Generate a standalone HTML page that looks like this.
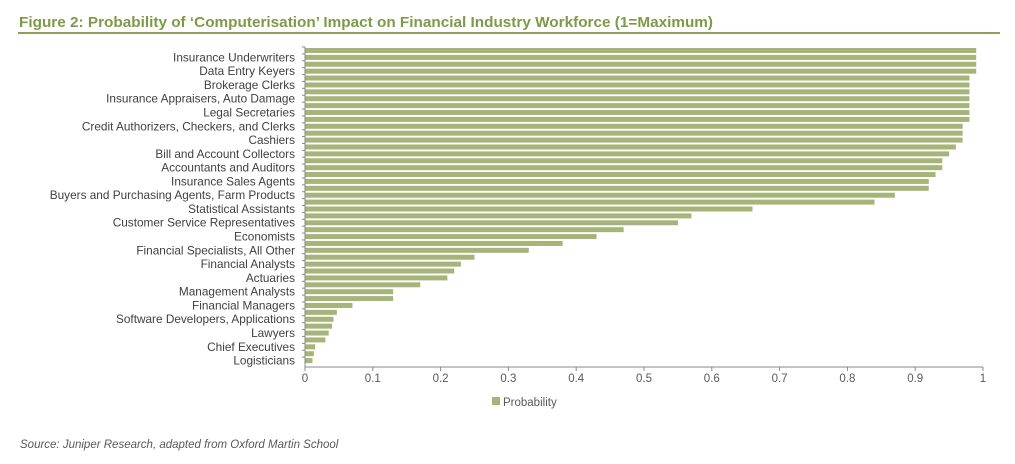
<!DOCTYPE html>
<html><head><meta charset="utf-8"><style>
body{margin:0;background:#fff;width:1015px;height:459px;overflow:hidden;font-family:"Liberation Sans",Arial,sans-serif}
</style></head><body>
<svg width="1015" height="459" xmlns="http://www.w3.org/2000/svg" id="chart">
<text x="19" y="27" font-size="15" font-weight="bold" fill="#7d9a47" textLength="694" lengthAdjust="spacingAndGlyphs">Figure 2: Probability of ‘Computerisation’ Impact on Financial Industry Workforce (1=Maximum)</text>
<rect x="18" y="32" width="982" height="2" fill="#8aa25c"/>
<g id="plot"></g>
<rect x="492" y="397" width="8" height="8" fill="#a5b57a"/>
<text x="503" y="406" font-size="11.5" fill="#595959">Probability</text>
<text x="20" y="448" font-size="11.5" font-style="italic" fill="#595959">Source: Juniper Research, adapted from Oxford Martin School</text>
</svg>
<script>
const categories = ["Title Examiners","Insurance Underwriters","Tax Preparers","Data Entry Keyers","Loan Officers","Brokerage Clerks","Insurance Claims Clerks","Insurance Appraisers, Auto Damage","Bookkeeping Clerks","Legal Secretaries","Payroll Clerks","Credit Authorizers, Checkers, and Clerks","Tellers","Cashiers","Claims Adjusters","Bill and Account Collectors","Credit Analysts","Accountants and Auditors","Budget Analysts","Insurance Sales Agents","Cost Estimators","Buyers and Purchasing Agents, Farm Products","Loan Counselors","Statistical Assistants","Securities Sales Agents","Customer Service Representatives","Market Research Analysts","Economists","Personal Financial Advisors","Financial Specialists, All Other","Financial Examiners","Financial Analysts","Business Operations Specialists","Actuaries","Compliance Officers","Management Analysts","Treasurers and Controllers","Financial Managers","Computer Systems Analysts","Software Developers, Applications","Statisticians","Lawyers","Database Administrators","Chief Executives","Mathematicians","Logisticians"];
const values = [0.99,0.99,0.99,0.99,0.98,0.98,0.98,0.98,0.98,0.98,0.98,0.97,0.97,0.97,0.96,0.95,0.94,0.94,0.93,0.92,0.92,0.87,0.84,0.66,0.57,0.55,0.47,0.43,0.38,0.33,0.25,0.23,0.22,0.21,0.17,0.13,0.13,0.07,0.047,0.042,0.04,0.035,0.03,0.015,0.013,0.011];
const ticks = [0,0.1,0.2,0.3,0.4,0.5,0.6,0.7,0.8,0.9,1];
const NS="http://www.w3.org/2000/svg";
const g=document.getElementById('plot');
const x0=305,x1=983,yTop=47,yBot=364;
const band=(yBot-yTop)/categories.length;
const xs=v=>x0+(x1-x0)*v;
const ys=i=>yTop+i*band;
function mk(t,a){const e=document.createElementNS(NS,t);for(const k in a)e.setAttribute(k,a[k]);g.appendChild(e);return e;}
values.forEach((v,i)=>{
  const r=mk('rect',{x:xs(0),y:ys(i)+1,width:xs(v)-xs(0),height:band-1.9,fill:'#a5b57a'});
  
  
  const tk=mk('line',{x1:x0-3,x2:x0,y1:ys(i),y2:ys(i),stroke:'#888','stroke-width':1});
  
  
  if(i%2===1){
    const t=mk('text',{x:295,y:ys(i)+band/2+4,'font-size':11.8,fill:'#404040','text-anchor':'end'});
    t.textContent=categories[i];
    
    
  }
});
const ya=mk('line',{x1:x0,x2:x0,y1:yTop,y2:yBot+3,stroke:'#888','stroke-width':1});


const xa=mk('line',{x1:x0,x2:x1,y1:yBot+3,y2:yBot+3,stroke:'#888','stroke-width':1});


ticks.forEach(v=>{
  const l=mk('line',{x1:xs(v),x2:xs(v),y1:yBot+3,y2:yBot+7,stroke:'#888','stroke-width':1});
  
  
  const t=mk('text',{x:xs(v),y:yBot+18,'font-size':11.5,fill:'#595959','text-anchor':'middle'});
  t.textContent=String(v);
  
  
});
</script>
</body></html>
